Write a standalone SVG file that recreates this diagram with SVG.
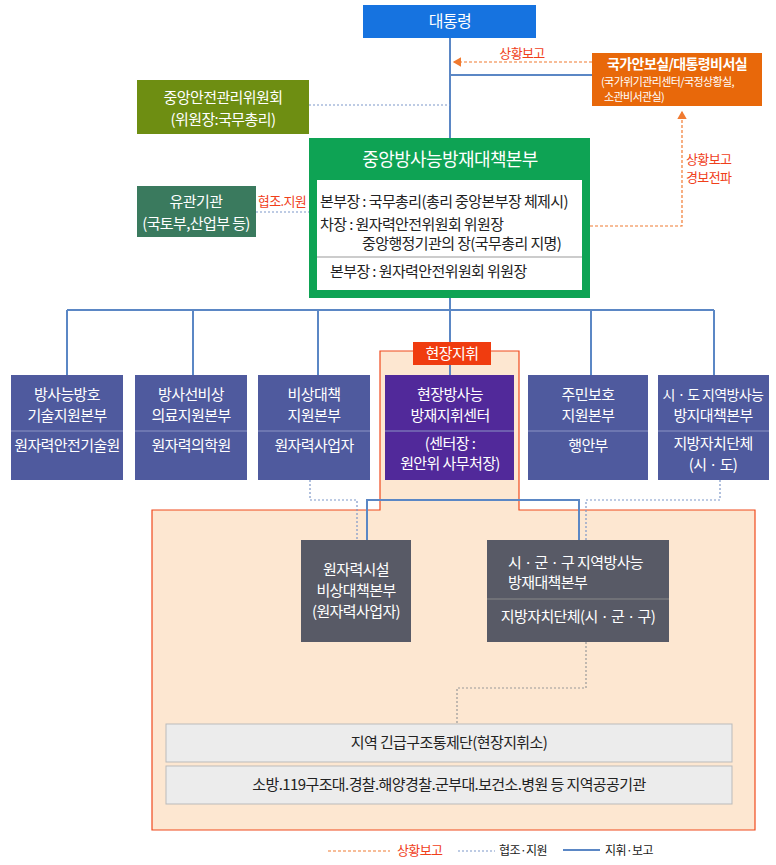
<svg xmlns="http://www.w3.org/2000/svg" width="776" height="865" viewBox="0 0 776 865">
<style>
text{font-family:"Noto Sans CJK KR","Noto Sans",sans-serif;text-anchor:middle;letter-spacing:-0.6px}
.w{fill:#fff;font-size:15px}
.d{fill:#222;font-size:15px}
.r{fill:#f0401a;font-size:13px}
.s{text-anchor:start}
.blue{fill:#4f5a9e}
.sep{stroke:#8c93c4;stroke-width:1}
.cmd{stroke:#5b87c5;stroke-width:2;fill:none}
.sup{stroke:#7d97c9;stroke-width:1.2;stroke-dasharray:2 2;fill:none}
.rep{stroke:#f07a30;stroke-width:1.2;stroke-dasharray:3 2;fill:none}
</style>
<defs>
<marker id="ar" markerWidth="8" markerHeight="8" refX="6" refY="4" orient="auto"><path d="M0,0L7,4L0,8z" fill="#f07a30"/></marker>
</defs>
<path d="M380,351H519V510H755V830H152V510H380Z" fill="#fde7d1" stroke="#f04a1d" stroke-width="1.2"/>
<g id="connectors">
<path class="cmd" d="M450,38V138M450,75H592M450,298V310M67,310H714M67,310V375M193,310V375M318,310V375M450,310V375M591,310V375M714,310V375M367,540V500H579V540"/>
<path class="sup" d="M309,105H450M256,212H309M310,480V500H357V540M720,480V500H586V540"/>
<path d="M586,642V688H457V724" stroke="#999" stroke-width="1.2" stroke-dasharray="2 2" fill="none"/>
<path class="rep" d="M592,62H454" marker-end="url(#ar)"/>
<path class="rep" d="M590,226H682V112" marker-end="url(#ar)"/>
<text class="r" x="522" y="58">상황보고</text>
<text class="r s" x="686" y="164">상황보고</text>
<text class="r s" x="686" y="182">경보전파</text>
<text class="r" x="282" y="206">협조.지원</text>
</g>
<g id="president"><rect x="363" y="5" width="173" height="33" fill="#1673e0"/><text class="w" x="450" y="27" style="font-size:16px">대통령</text></g>
<g id="nsc"><rect x="592" y="53" width="170" height="53" fill="#e8680a"/><text class="w" x="677" y="69" style="font-size:14px;font-weight:bold">국가안보실/대통령비서실</text><text class="w s" x="601" y="86" style="font-size:11px">(국가위기관리센터/국정상황실,</text><text class="w s" x="604" y="101" style="font-size:11px">소관비서관실)</text></g>
<g id="csmc"><rect x="137" y="80" width="172" height="54" fill="#6e8e12"/><text class="w" x="223" y="103">중앙안전관리위원회</text><text class="w" x="223" y="125">(위원장:국무총리)</text></g>
<g id="related"><rect x="137" y="186" width="119" height="51" fill="#3a7a5e"/><text class="w" x="196" y="207">유관기관</text><text class="w" x="196" y="229">(국토부,산업부 등)</text></g>
<g id="central"><rect x="309" y="138" width="281" height="160" fill="#0ea354"/><text class="w" x="450" y="166" style="font-size:18px">중앙방사능방재대책본부</text>
<rect x="317" y="180" width="265" height="110" fill="#fff"/><line x1="317" y1="257" x2="582" y2="257" stroke="#999"/>
<text class="d s" x="320" y="207">본부장 : 국무총리(총리 중앙본부장 체제시)</text><text class="d s" x="320" y="230">차장 : 원자력안전위원회 위원장</text><text class="d s" x="362" y="249">중앙행정기관의 장(국무총리 지명)</text><text class="d s" x="330" y="277">본부장 : 원자력안전위원회 위원장</text></g>
<g id="b1"><rect class="blue" x="11" y="375" width="112" height="105"/><line class="sep" x1="11" y1="431" x2="123" y2="431"/><text class="w" x="67" y="400">방사능방호</text><text class="w" x="67" y="421">기술지원본부</text><text class="w" x="67" y="451">원자력안전기술원</text></g>
<g id="b2"><rect class="blue" x="135" y="375" width="112" height="105"/><line class="sep" x1="135" y1="431" x2="247" y2="431"/><text class="w" x="191" y="400">방사선비상</text><text class="w" x="191" y="421">의료지원본부</text><text class="w" x="191" y="451">원자력의학원</text></g>
<g id="b3"><rect class="blue" x="258" y="375" width="112" height="105"/><line class="sep" x1="258" y1="431" x2="370" y2="431"/><text class="w" x="314" y="400">비상대책</text><text class="w" x="314" y="421">지원본부</text><text class="w" x="314" y="451">원자력사업자</text></g>
<g id="b4"><rect x="385" y="375" width="129" height="105" fill="#51299a"/><line class="sep" x1="385" y1="431" x2="514" y2="431"/><text class="w" x="450" y="400">현장방사능</text><text class="w" x="450" y="421">방재지휘센터</text><text class="w" x="450" y="449">(센터장 :</text><text class="w" x="450" y="469">원안위 사무처장)</text></g>
<g id="tag"><rect x="413" y="342" width="78" height="23" fill="#f03c0f"/><text class="w" x="452" y="359">현장지휘</text></g>
<g id="b5"><rect class="blue" x="528" y="375" width="120" height="105"/><line class="sep" x1="528" y1="431" x2="648" y2="431"/><text class="w" x="588" y="400">주민보호</text><text class="w" x="588" y="421">지원본부</text><text class="w" x="588" y="451">행안부</text></g>
<g id="b6"><rect class="blue" x="658" y="375" width="111" height="105"/><line class="sep" x1="658" y1="431" x2="769" y2="431"/><text class="w" x="713" y="400" style="font-size:14px">시 · 도 지역방사능</text><text class="w" x="713" y="421">방지대책본부</text><text class="w" x="713" y="449">지방자치단체</text><text class="w" x="713" y="470">(시 · 도)</text></g>
<g id="nf"><rect x="301" y="540" width="110" height="102" fill="#585a66"/><text class="w" x="356" y="575">원자력시설</text><text class="w" x="356" y="596">비상대책본부</text><text class="w" x="356" y="617">(원자력사업자)</text></g>
<g id="local"><rect x="487" y="540" width="182" height="102" fill="#585a66"/><line x1="487" y1="599" x2="669" y2="599" stroke="#888"/><text class="w s" x="508" y="568">시 · 군 · 구 지역방사능</text><text class="w s" x="508" y="588">방재대책본부</text><text class="w" x="578" y="622">지방자치단체(시 · 군 · 구)</text></g>
<g id="g1"><rect x="166" y="724" width="566" height="38" fill="#ececec" stroke="#bbb"/><text class="d" x="449" y="748">지역 긴급구조통제단(현장지휘소)</text></g>
<g id="g2"><rect x="166" y="766" width="566" height="38" fill="#ececec" stroke="#bbb"/><text class="d" x="449" y="790">소방.119구조대.경찰.해양경찰.군부대.보건소.병원 등 지역공공기관</text></g>
<g id="legend">
<line class="rep" x1="328" y1="851" x2="390" y2="851"/><text class="r s" x="397" y="855">상황보고</text>
<line class="sup" x1="458" y1="851" x2="495" y2="851"/><text class="d s" x="499" y="855" style="font-size:12px">협조·지원</text>
<line class="cmd" x1="563" y1="850" x2="600" y2="850"/><text class="d s" x="605" y="855" style="font-size:12px">지휘·보고</text>
</g>
</svg>
